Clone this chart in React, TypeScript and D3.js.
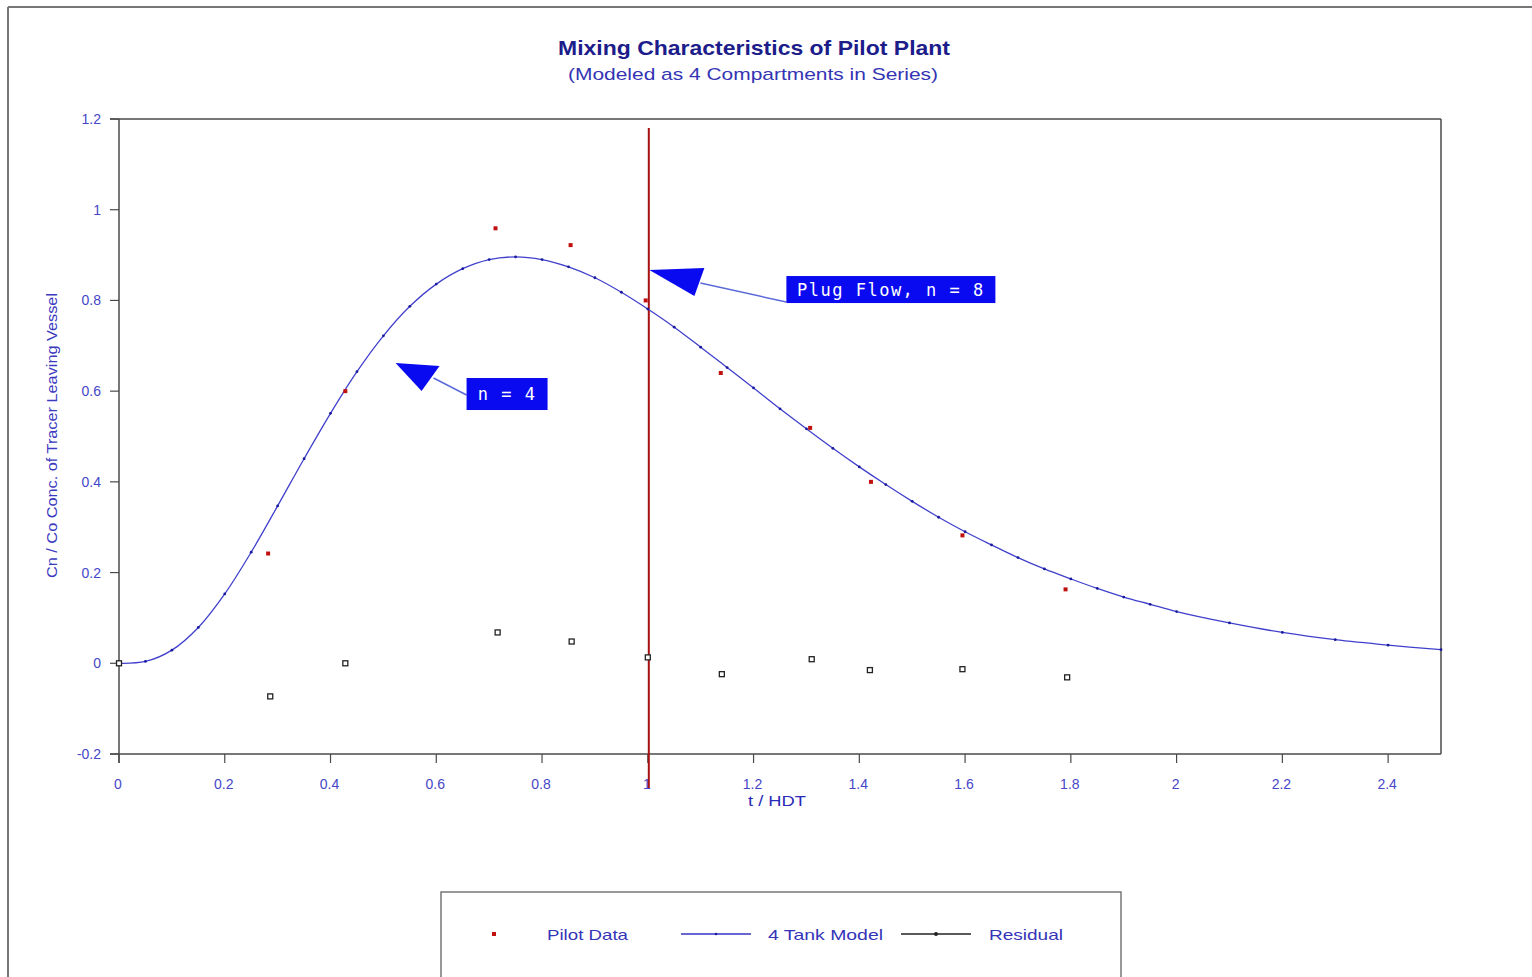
import React from "react";
import * as d3 from "d3";

// 4-tank model curve (t/HDT, Cn/Co)
const modelT = [0, 0.05, 0.1, 0.15, 0.2, 0.25, 0.3, 0.35, 0.4, 0.45, 0.5, 0.55, 0.6, 0.65, 0.7, 0.75, 0.8, 0.85, 0.9, 0.95, 1.0, 1.05, 1.1, 1.15, 1.2, 1.25, 1.3, 1.35, 1.4, 1.45, 1.5, 1.55, 1.6, 1.65, 1.7, 1.75, 1.8, 1.85, 1.9, 1.95, 2.0, 2.1, 2.2, 2.3, 2.4, 2.5];
const modelC = [0, 0.004, 0.029, 0.079, 0.153, 0.245, 0.347, 0.451, 0.551, 0.643, 0.722, 0.787, 0.836, 0.870, 0.890, 0.896, 0.890, 0.874, 0.850, 0.818, 0.781, 0.741, 0.697, 0.652, 0.607, 0.561, 0.517, 0.474, 0.433, 0.394, 0.357, 0.322, 0.290, 0.261, 0.233, 0.208, 0.186, 0.165, 0.146, 0.130, 0.114, 0.089, 0.068, 0.052, 0.040, 0.030];

// Pilot data
const pilotT = [0, 0.282, 0.428, 0.712, 0.854, 0.996, 1.138, 1.307, 1.422, 1.595, 1.79];
const pilotC = [0, 0.242, 0.6, 0.959, 0.922, 0.8, 0.64, 0.519, 0.4, 0.282, 0.163];

// Residuals
const residT = [0, 0.286, 0.428, 0.716, 0.856, 1.0, 1.14, 1.31, 1.42, 1.595, 1.793];
const residC = [0, -0.073, 0.0, 0.068, 0.048, 0.013, -0.024, 0.009, -0.015, -0.013, -0.031];

const xTicks = [0, 0.2, 0.4, 0.6, 0.8, 1, 1.2, 1.4, 1.6, 1.8, 2, 2.2, 2.4];
const yTicks = [-0.2, 0, 0.2, 0.4, 0.6, 0.8, 1, 1.2];

const plugFlowT = 1.0;

const annotations = [
  { label: "Plug Flow, n = 8", tipT: 1.003, tipC: 0.867, head: [[55, -2], [45, 26]], lineFrom: [51, 13], lineTo: [137, 32], box: [137, 6, 209, 27] },
  { label: "n = 4", tipT: 0.523, tipC: 0.662, head: [[44, 3], [26, 28]], lineFrom: [38, 15], lineTo: [71, 32], box: [71, 15, 81, 32] },
];

const W = 1532;
const H = 977;

export default function App() {
  const x = d3.scaleLinear().domain([0, 2.5]).range([119, 1441]);
  const y = d3.scaleLinear().domain([-0.2, 1.2]).range([754, 119]);

  const modelData = modelT.map((t, i) => [t, modelC[i]] as [number, number]);
  const line = d3
    .line<[number, number]>()
    .x((d) => x(d[0]))
    .y((d) => y(d[1]))
    .curve(d3.curveCatmullRom.alpha(0.5));

  const axisColor = "#4a4a4a";
  const labelColor = "#4646c8";
  const font = "'Liberation Sans', Arial, sans-serif";

  return (
    <svg
      width={W}
      height={H}
      style={{ position: "absolute", left: 0, top: 0, background: "#fff" }}
      fontFamily={font}
    >
      {/* outer frame */}
      <line x1={8} y1={7} x2={W} y2={7} stroke="#777" strokeWidth={2} />
      <line x1={8} y1={7} x2={8} y2={H} stroke="#777" strokeWidth={2} />

      {/* title */}
      <text x={558} y={55} fontSize={21} fontWeight="bold" fill="#1c1c8a" textLength={392} lengthAdjust="spacingAndGlyphs">
        Mixing Characteristics of Pilot Plant
      </text>
      <text x={568} y={80} fontSize={17} fill="#3434b4" textLength={370} lengthAdjust="spacingAndGlyphs">
        (Modeled as 4 Compartments in Series)
      </text>

      {/* plot frame */}
      <line x1={110} y1={y(1.2)} x2={x(2.5)} y2={y(1.2)} stroke={axisColor} strokeWidth={1.5} />
      <line x1={x(2.5)} y1={y(1.2)} x2={x(2.5)} y2={y(-0.2)} stroke={axisColor} strokeWidth={1.5} />
      <line x1={110} y1={y(-0.2)} x2={x(2.5)} y2={y(-0.2)} stroke={axisColor} strokeWidth={1.5} />
      <line x1={x(0)} y1={y(1.2)} x2={x(0)} y2={y(-0.2) + 9} stroke={axisColor} strokeWidth={1.5} />

      {/* y ticks */}
      {yTicks.map((v) => (
        <g key={"y" + v}>
          <line x1={110} x2={x(0)} y1={y(v)} y2={y(v)} stroke={axisColor} strokeWidth={1.2} />
          <text x={101} y={y(v) + 5} textAnchor="end" fontSize={14} fill={labelColor}>
            {v === -0.2 ? "-0.2" : String(v)}
          </text>
        </g>
      ))}

      {/* x ticks */}
      {xTicks.map((v) => (
        <g key={"x" + v}>
          <line x1={x(v)} x2={x(v)} y1={y(-0.2)} y2={y(-0.2) + 9} stroke={axisColor} strokeWidth={1.2} />
          <text x={x(v) - 1} y={789} textAnchor="middle" fontSize={14} fill={labelColor}>
            {String(v)}
          </text>
        </g>
      ))}

      {/* axis titles */}
      <text x={748} y={806} fontSize={14} fill="#2a2ab8" textLength={58} lengthAdjust="spacingAndGlyphs">
        t / HDT
      </text>
      <text
        transform={`translate(57, 578) rotate(-90)`}
        fontSize={14}
        fill="#3a3ac0"
        textLength={285}
        lengthAdjust="spacingAndGlyphs"
      >
        Cn / Co Conc. of Tracer Leaving Vessel
      </text>

      {/* plug flow line */}
      <line
        x1={x(plugFlowT) + 1}
        x2={x(plugFlowT) + 1}
        y1={y(1.18)}
        y2={y(-0.2) + 34}
        stroke="#a81010"
        strokeWidth={2}
      />

      {/* model curve */}
      <path d={line(modelData) || ""} fill="none" stroke="#4040cc" strokeWidth={1.3} />
      {modelData.map((d, i) => (
        <circle key={"m" + i} cx={x(d[0])} cy={y(d[1])} r={1.4} fill="#1a1aa0" />
      ))}

      {/* pilot data */}
      {pilotT.map((t, i) => (
        <rect
          key={"p" + i}
          x={x(t) - 2}
          y={y(pilotC[i]) - 2}
          width={4}
          height={4}
          fill={i === 0 ? "#111" : "#c01010"}
        />
      ))}

      {/* residuals */}
      {residT.map((t, i) => (
        <rect
          key={"r" + i}
          x={x(t) - 2.5}
          y={y(residC[i]) - 2.5}
          width={5}
          height={5}
          fill="#fff"
          stroke="#222"
          strokeWidth={1.3}
        />
      ))}

      {/* annotations */}
      {annotations.map((a, i) => {
        const tx = x(a.tipT);
        const ty = y(a.tipC);
        const [bx, by, bw, bh] = a.box;
        return (
          <g key={"a" + i}>
            <line
              x1={tx + a.lineFrom[0]}
              y1={ty + a.lineFrom[1]}
              x2={tx + a.lineTo[0]}
              y2={ty + a.lineTo[1]}
              stroke="#5a6ad8"
              strokeWidth={1.5}
            />
            <polygon
              points={`${tx},${ty} ${tx + a.head[0][0]},${ty + a.head[0][1]} ${tx + a.head[1][0]},${ty + a.head[1][1]}`}
              fill="#0a0af0"
            />
            <rect x={tx + bx} y={ty + by} width={bw} height={bh} fill="#0a0af0" />
            <text
              x={tx + bx + bw / 2}
              y={ty + by + bh / 2 + 6}
              textAnchor="middle"
              fontSize={17}
              fill="#ffffff"
              fontFamily="'DejaVu Sans Mono', monospace"
              letterSpacing={1.5}
            >
              {a.label}
            </text>
          </g>
        );
      })}

      {/* legend */}
      <rect x={441} y={892} width={680} height={110} fill="none" stroke="#777" strokeWidth={1.5} />
      <rect x={492} y={932} width={4} height={4} fill="#c01010" />
      <text x={547} y={940} fontSize={15} fill="#3434b8" textLength={81} lengthAdjust="spacingAndGlyphs">Pilot Data</text>
      <line x1={681} x2={751} y1={934} y2={934} stroke="#3535c8" strokeWidth={1.5} />
      <circle cx={716} cy={934} r={1.3} fill="#1a1aa0" />
      <text x={768} y={940} fontSize={15} fill="#3434b8" textLength={115} lengthAdjust="spacingAndGlyphs">4 Tank Model</text>
      <line x1={901} x2={971} y1={934} y2={934} stroke="#222" strokeWidth={1.5} />
      <circle cx={936} cy={934} r={2} fill="#222" />
      <text x={989} y={940} fontSize={15} fill="#3434b8" textLength={74} lengthAdjust="spacingAndGlyphs">Residual</text>
    </svg>
  );
}
